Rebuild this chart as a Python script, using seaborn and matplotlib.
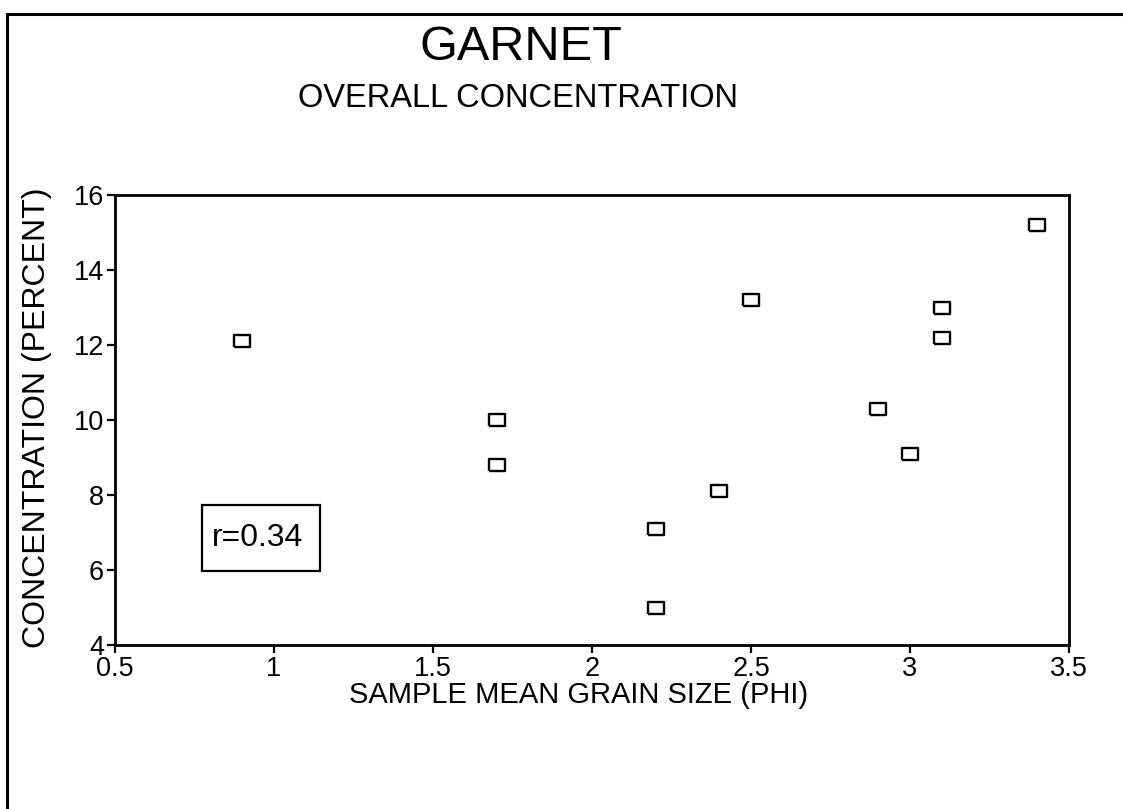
import matplotlib
matplotlib.use("Agg")
import matplotlib.pyplot as plt
from matplotlib.lines import Line2D
from matplotlib.patches import Rectangle
import seaborn as sns
import pandas as pd

# ---- data ----
grain_size_phi = [0.9, 1.7, 1.7, 2.2, 2.2, 2.4, 2.5, 2.9, 3.0, 3.1, 3.1, 3.4]
concentration_pct = [12.1, 10.0, 8.8, 7.1, 5.0, 8.1, 13.2, 10.3, 9.1, 13.0, 12.2, 15.2]
x_ticks = [0.5, 1, 1.5, 2, 2.5, 3, 3.5]
x_tick_labels = ["0.5", "1", "1.5", "2", "2.5", "3", "3.5"]
y_ticks = [4, 6, 8, 10, 12, 14, 16]
y_tick_labels = ["4", "6", "8", "10", "12", "14", "16"]
title = "GARNET"
subtitle = "OVERALL CONCENTRATION"
x_label = "SAMPLE MEAN GRAIN SIZE (PHI)"
y_label = "CONCENTRATION (PERCENT)"
r_text = "r=0.34"

df = pd.DataFrame({"phi": grain_size_phi, "conc": concentration_pct})

sns.set_style("ticks")
plt.rcParams["font.family"] = ["Liberation Sans", "DejaVu Sans"]
plt.rcParams["text.color"] = "black"
plt.rcParams["axes.labelcolor"] = "black"
plt.rcParams["xtick.color"] = "black"
plt.rcParams["ytick.color"] = "black"

W, H = 1123, 809
fig = plt.figure(figsize=(W / 100, H / 100), dpi=100)
fig.patch.set_facecolor("white")

def fx(px):
    return px / W

def fy(py):
    return 1 - py / H

ax = fig.add_axes([fx(115), fy(645), fx(1069) - fx(115), fy(195) - fy(645)])

rect_marker = [(-1, -0.72), (1, -0.72), (1, 0.72), (-1, 0.72), (-1, -0.72)]
sns.scatterplot(data=df, x="phi", y="conc", ax=ax, marker=rect_marker, s=125,
                facecolor="white", edgecolor="black", linewidth=1.7, zorder=3)

ax.set_xlim(0.5, 3.5)
ax.set_ylim(4, 16)
ax.set_xticks(x_ticks)
ax.set_xticklabels(x_tick_labels)
ax.set_yticks(y_ticks)
ax.set_yticklabels(y_tick_labels)
ax.set_xlabel("")
ax.set_ylabel("")
for sp in ax.spines.values():
    sp.set_linewidth(2.0)
    sp.set_color("black")
ax.tick_params(axis="both", direction="out", length=6, width=1.6, colors="black",
               labelcolor="black", labelsize=19.5, pad=2)
ax.tick_params(axis="x", pad=2)
ax.set_facecolor("white")
ax.grid(False)

# titles and axis labels
fig.text(fx(521), fy(60), title, ha="center", va="baseline", fontsize=35, color="black")
fig.text(fx(518), fy(107), subtitle, ha="center", va="baseline", fontsize=23.5, color="black")
fig.text(fx(579), fy(703), x_label, ha="center", va="baseline", fontsize=21, color="black")
fig.text(fx(37), fy(418), y_label, ha="center", va="center", rotation=90, fontsize=23,
         color="black")

# r annotation box
fig.patches.append(Rectangle((fx(202), fy(571)), fx(320) - fx(202), fy(505) - fy(571),
                             transform=fig.transFigure, facecolor="none",
                             edgecolor="black", linewidth=1.6))
fig.text(fx(258), fy(538), r_text, ha="center", va="center", fontsize=23, color="black")

# outer frame (top and left edges of the scanned page)
fig.add_artist(Line2D([fx(7), 1.0], [fy(14), fy(14)], transform=fig.transFigure,
                      color="black", linewidth=2.2))
fig.add_artist(Line2D([fx(7), fx(7)], [0.0, fy(14)], transform=fig.transFigure,
                      color="black", linewidth=2.2))

fig.savefig("out.png", dpi=100, facecolor="white")
